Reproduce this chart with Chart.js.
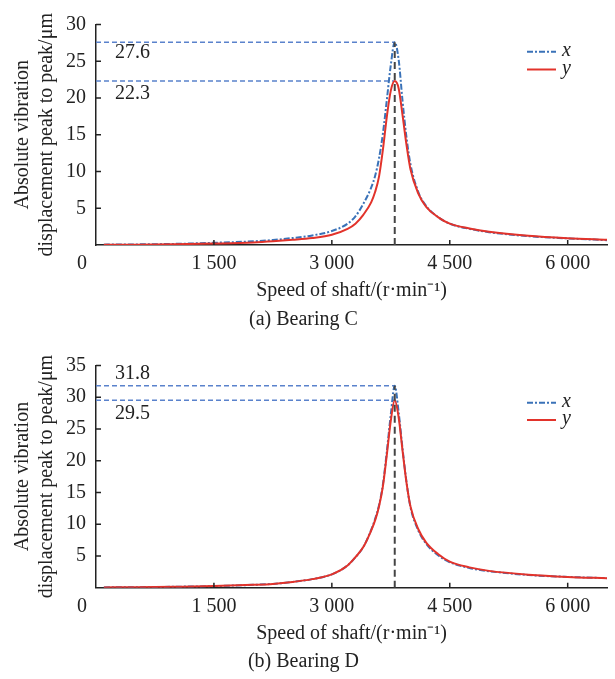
<!DOCTYPE html>
<html>
<head>
<meta charset="utf-8">
<script src="https://cdn.jsdelivr.net/npm/chart.js@4/dist/chart.umd.min.js"></script>
<style>
  html, body { margin: 0; padding: 0; background: #fff; }
  #wrap { position: relative; width: 615px; height: 679px; }
  canvas { position: absolute; left: 0; }
</style>
</head>
<body>
<div id="wrap">
  <canvas id="c1" width="615" height="340" style="top:0px"></canvas>
  <canvas id="c2" width="615" height="339" style="top:340px"></canvas>
</div>
<script>
// ---------- DATA ----------
const speeds = [100, 500, 1000, 1500, 2000, 2250, 2500, 2750, 3000, 3200, 3300, 3400, 3500, 3550, 3600, 3650, 3700, 3750, 3800, 3850, 3900, 3950, 4000, 4100, 4200, 4350, 4500, 4750, 5000, 5500, 6000, 6500];

const bearingC_x = [0.05, 0.08, 0.15, 0.3, 0.5, 0.68, 0.95, 1.3, 1.9, 2.9, 3.9, 5.6, 7.8, 9.4, 11.8, 15.2, 19.8, 24.5, 27.6, 25.2, 19.5, 14.6, 11.0, 7.2, 5.3, 3.8, 2.9, 2.2, 1.75, 1.2, 0.9, 0.65];
const bearingC_y = [0.03, 0.05, 0.1, 0.2, 0.35, 0.5, 0.7, 0.95, 1.4, 2.2, 2.9, 4.1, 5.8, 7.2, 9.3, 13.0, 17.5, 21.0, 22.3, 21.3, 17.6, 13.6, 10.3, 7.0, 5.2, 3.8, 2.9, 2.25, 1.8, 1.25, 0.92, 0.7];

const bearingD_x = [0.05, 0.08, 0.15, 0.25, 0.45, 0.6, 0.9, 1.35, 2.1, 3.5, 4.8, 6.4, 9.1, 10.8, 13.0, 16.3, 21.5, 27.3, 31.8, 27.6, 21.8, 16.6, 12.7, 9.0, 6.9, 5.1, 4.0, 3.1, 2.6, 2.0, 1.7, 1.5];
const bearingD_y = [0.05, 0.08, 0.15, 0.25, 0.45, 0.6, 0.9, 1.35, 2.1, 3.5, 4.8, 6.4, 9.0, 10.6, 12.8, 16.0, 21.0, 26.3, 29.5, 26.8, 21.5, 16.5, 12.8, 9.2, 7.1, 5.3, 4.1, 3.2, 2.65, 2.05, 1.7, 1.5];

const peakSpeed = 3800;
const peaksC = [27.6, 22.3];
const peaksD = [31.8, 29.5];
const xTicks = [0, 1500, 3000, 4500, 6000];
const xMax = 6500;
const yMaxC = 30;
const yMaxD = 35;
const seriesNames = ['x', 'y'];
const captions = ['(a) Bearing C', '(b) Bearing D'];
const xTitle = 'Speed of shaft/(r\u00B7min\u207B\u00B9)';
const yTitle = ['Absolute vibration', 'displacement peak to peak/\u03BCm'];

// ---------- STYLE ----------
const FONT = '"Liberation Serif", "Times New Roman", serif';
const TXT = '#222';
const BLUE = '#3a72b8';
const RED = '#e2332b';
const REFBLUE = '#5a82cc';
const VLINE = '#444';

Chart.defaults.font.family = FONT;
Chart.defaults.font.size = 20;
Chart.defaults.color = TXT;

function pts(xs, ys) { return xs.map((v, i) => ({ x: v, y: ys[i] })); }
function fmt(v) { return String(v).replace(/\B(?=(\d{3})+(?!\d))/g, ' '); }

const decor = {
  id: 'decor',
  afterDatasetsDraw(chart, args, o) {
    const ctx = chart.ctx;
    const xs = chart.scales.x, ys = chart.scales.y;
    const a = chart.chartArea;
    ctx.save();
    // inward tick marks
    ctx.strokeStyle = '#222';
    ctx.lineWidth = 1.5;
    ctx.beginPath();
    xs.ticks.forEach(t => {
      if (t.value === 0) return;
      const px = xs.getPixelForValue(t.value);
      ctx.moveTo(px, a.bottom); ctx.lineTo(px, a.bottom - 5);
    });
    ys.ticks.forEach(t => {
      if (t.value === 0) return;
      const py = ys.getPixelForValue(t.value);
      ctx.moveTo(a.left, py); ctx.lineTo(a.left + 5, py);
    });
    ctx.stroke();
    // origin label
    ctx.fillStyle = TXT;
    ctx.font = '20px ' + FONT;
    ctx.textAlign = 'center';
    ctx.textBaseline = 'middle';
    ctx.fillText('0', a.left - 14, a.bottom + 19);
    // peak value labels
    ctx.textAlign = 'left';
    o.peaks.forEach((p, i) => {
      ctx.fillText(p.toFixed(1), a.left + 19, ys.getPixelForValue(p) + o.labelOff[i]);
    });
    // legend
    const lx0 = a.right - 80, lx1 = a.right - 51;
    o.legendOff.forEach((off, i) => {
      const yy = a.top + off;
      ctx.beginPath();
      ctx.lineWidth = 2;
      ctx.strokeStyle = i === 0 ? BLUE : RED;
      ctx.setLineDash(i === 0 ? [6, 2, 2, 2] : []);
      ctx.moveTo(lx0, yy); ctx.lineTo(lx1, yy);
      ctx.stroke();
      ctx.setLineDash([]);
      ctx.font = 'italic 20px ' + FONT;
      ctx.fillStyle = TXT;
      ctx.textAlign = 'left';
      ctx.fillText(seriesNames[i], a.right - 45, yy - 1);
    });
    ctx.restore();
  }
};

function makeChart(id, xVals, yVals, peaks, ymax, caption, labelOff, legendOff, pad) {
  const peakLine = v => [{ x: 0, y: v }, { x: peakSpeed, y: v }];
  new Chart(document.getElementById(id), {
    type: 'line',
    data: {
      datasets: [
        { label: seriesNames[1], data: pts(speeds, yVals), borderColor: RED, borderWidth: 2, pointRadius: 0, cubicInterpolationMode: 'monotone', order: 1 },
        { label: seriesNames[0], data: pts(speeds, xVals), borderColor: BLUE, borderWidth: 2, borderDash: [6, 2, 2, 2], pointRadius: 0, cubicInterpolationMode: 'monotone', order: 2 },
        { label: 'ref1', data: peakLine(peaks[0]), borderColor: REFBLUE, borderWidth: 1.5, borderDash: [5, 3], pointRadius: 0, order: 3 },
        { label: 'ref2', data: peakLine(peaks[1]), borderColor: REFBLUE, borderWidth: 1.5, borderDash: [5, 3], pointRadius: 0, order: 3 },
        { label: 'vline', data: [{ x: peakSpeed, y: 0 }, { x: peakSpeed, y: peaks[0] }], borderColor: VLINE, borderWidth: 2, borderDash: [7, 4], pointRadius: 0, order: 0 }
      ]
    },
    options: {
      responsive: false,
      animation: false,
      devicePixelRatio: 1,
      layout: { padding: pad },
      plugins: {
        legend: { display: false },
        tooltip: { enabled: false },
        title: { display: true, position: 'bottom', text: caption, font: { size: 20, weight: 'normal', lineHeight: 1.2 }, padding: { top: 4.5, bottom: 0 }, color: TXT },
        decor: { peaks: peaks, labelOff: labelOff, legendOff: legendOff }
      },
      scales: {
        x: {
          type: 'linear', min: 0, max: xMax,
          grid: { display: false, drawTicks: false, tickLength: 0 },
          border: { display: true, color: '#222', width: 1.5 },
          afterBuildTicks: s => { s.ticks = xTicks.map(v => ({ value: v })); },
          ticks: { padding: 7, maxRotation: 0, autoSkip: false, font: { size: 20, lineHeight: 1.2 }, callback: v => v === 0 ? '' : fmt(v) },
          title: { display: true, text: xTitle, font: { size: 20, lineHeight: 1.2 }, padding: { top: 0, bottom: 0 } },
          afterFit: s => { s.height = 58; }
        },
        y: {
          min: 0, max: ymax,
          grid: { display: false, drawTicks: false, tickLength: 0 },
          border: { display: true, color: '#222', width: 1.5 },
          ticks: { stepSize: 5, padding: 10, font: { size: 20, lineHeight: 1.2 }, callback: v => v === 0 ? '' : v },
          title: { display: true, text: yTitle, font: { size: 20, lineHeight: 1.2 }, padding: { top: 11, bottom: 0 } },
          afterFit: s => { s.width = 96; }
        }
      }
    },
    plugins: [decor]
  });
}

makeChart('c1', bearingC_x, bearingC_y, peaksC, yMaxC, captions[0], [11, 12.5], [27.2, 45], { top: 24.5, right: 8, bottom: 8.5, left: 0 });
makeChart('c2', bearingD_x, bearingD_y, peaksD, yMaxD, captions[1], [-12, 13], [37.3, 54.6], { top: 25.4, right: 8, bottom: 4.8, left: 0 });
</script>
</body>
</html>
